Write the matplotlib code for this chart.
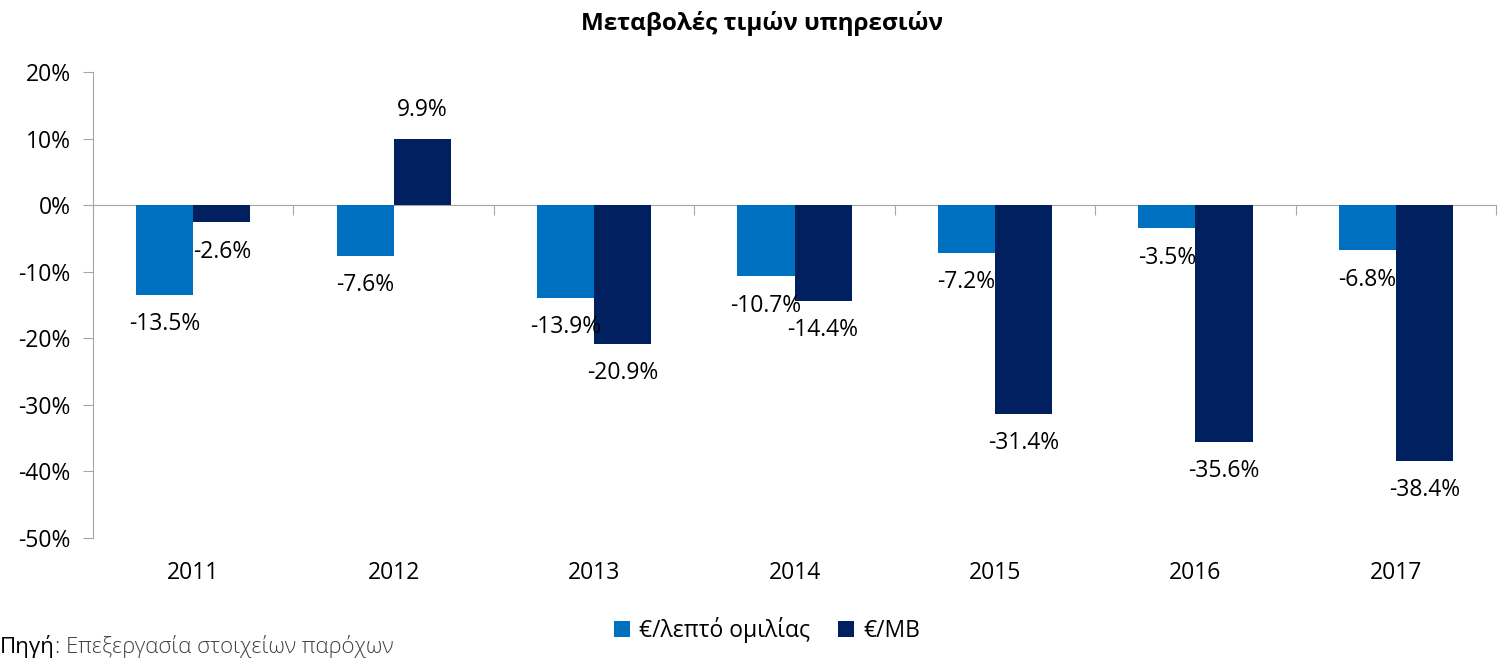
import matplotlib
matplotlib.use("Agg")
import matplotlib.pyplot as plt
import numpy as np

plt.rcParams["font.family"] = ["Open Sans", "DejaVu Sans"]

years = ["2011", "2012", "2013", "2014", "2015", "2016", "2017"]
per_minute = [-13.5, -7.6, -13.9, -10.7, -7.2, -3.5, -6.8]
per_mb = [-2.6, 9.9, -20.9, -14.4, -31.4, -35.6, -38.4]
series_names = ["€/λεπτό ομιλίας", "€/MB"]
colors = ["#0070C0", "#002060"]

fig = plt.figure(figsize=(14.98, 6.6), dpi=100)
ax = fig.add_axes([0.0621, 0.1848, 0.9366, 0.7061])

x = np.arange(len(years))
w = 0.285
grey = "#A6A6A6"

for vals, off, col, name in [(per_minute, -w / 2, colors[0], series_names[0]),
                              (per_mb, w / 2, colors[1], series_names[1])]:
    bars = ax.bar(x + off, vals, width=w, color=col, label=name, zorder=3)
    for b, v in zip(bars, vals):
        dy = 21 if v > 0 else -21
        ax.annotate(f"{v:.1f}%", (b.get_x() + b.get_width() / 2, v),
                    xytext=(0, dy), textcoords="offset points",
                    ha="center", va="center", fontsize=16.5, zorder=4)

ax.set_xlim(-0.5, len(years) - 0.5)
ax.set_ylim(-50, 20)
ax.set_yticks(np.arange(-50, 21, 10))
ax.set_yticklabels([f"{t}%" for t in range(-50, 21, 10)], fontsize=16.5)
ax.tick_params(axis="y", direction="out", length=7, color=grey, pad=9)

for s in ["top", "right"]:
    ax.spines[s].set_visible(False)
ax.spines["left"].set_color(grey)
ax.spines["bottom"].set_color(grey)
ax.spines["bottom"].set_position(("data", 0))
ax.spines["bottom"].set_zorder(2)

ax.set_xticks(np.arange(len(years) + 1) - 0.5)
ax.set_xticklabels([])
ax.tick_params(axis="x", direction="out", length=7, color=grey)
for xi, yr in zip(x, years):
    ax.text(xi, -0.075, yr, transform=ax.get_xaxis_transform(),
            ha="center", va="center", fontsize=16.5)

fig.text(0.509, 0.965, "Μεταβολές τιμών υπηρεσιών", ha="center", va="center",
         fontsize=17.5, fontweight="bold")

fig.legend(loc="center", bbox_to_anchor=(0.512, 0.045), ncol=2, frameon=False,
           fontsize=16.5, handlelength=0.7, handleheight=0.7, handletextpad=0.4,
           columnspacing=1.2)

t1 = fig.text(0.0, 0.02, "Πηγή", ha="left", va="center", fontsize=16)
fig.canvas.draw()
bb = t1.get_window_extent()
fig.text(bb.x1 / fig.bbox.width, 0.02, ": Επεξεργασία στοιχείων παρόχων",
         ha="left", va="center", fontsize=16, fontweight="light", color="#404040")

fig.savefig("out.png", dpi=100)
